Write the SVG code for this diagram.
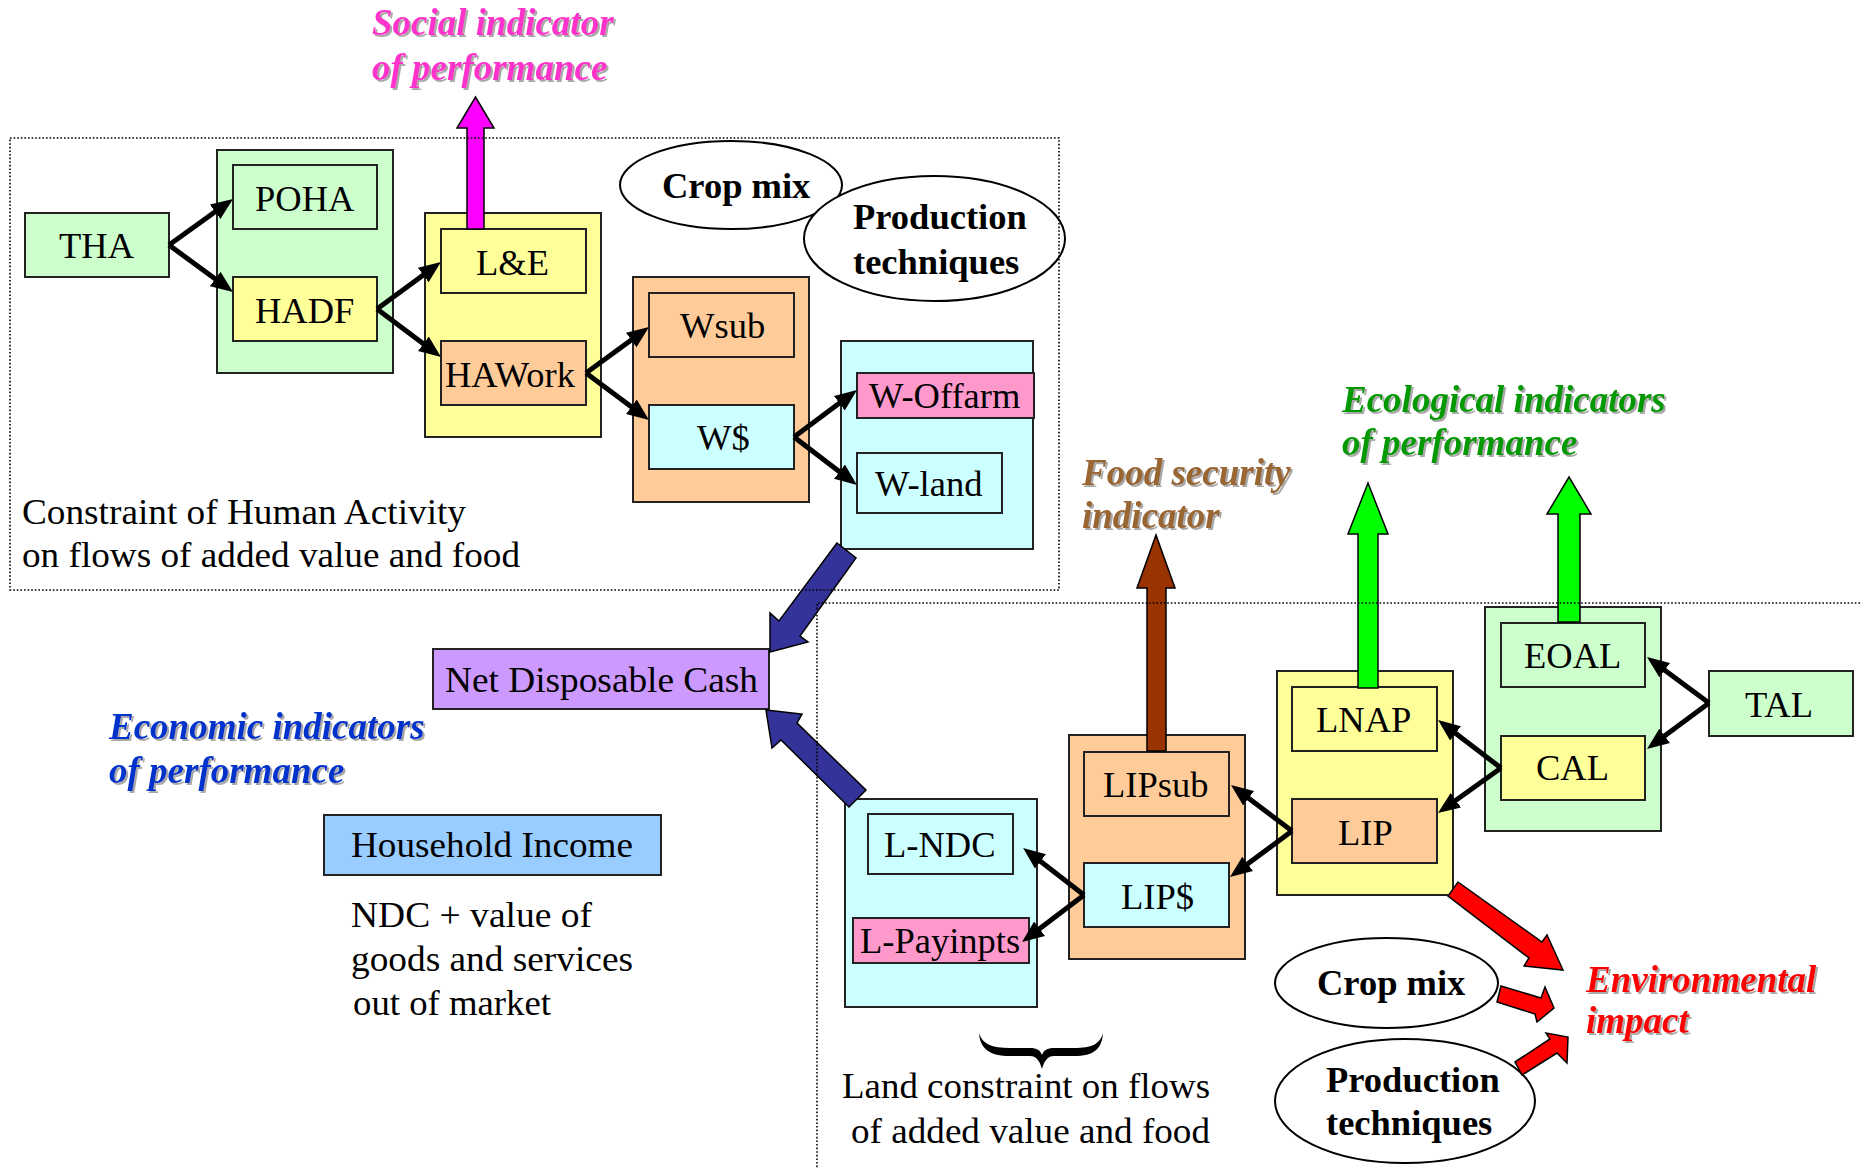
<svg xmlns="http://www.w3.org/2000/svg" width="1860" height="1169" viewBox="0 0 1860 1169">
  <defs>
    <style>
      text { font-family: "Liberation Serif", "Times New Roman", serif; font-size: 36.5px; fill: #000; }
      .b { font-weight: bold; }
      .ind { font-weight: bold; font-style: italic; font-size: 37px; filter: url(#shadow); }
      .box { stroke: #222; stroke-width: 2; }
      .green { fill: #CCFFCC; }
      .yellow { fill: #FFFF99; }
      .orange { fill: #FFCC99; }
      .cyan { fill: #CCFFFF; }
      .pink { fill: #FF99CC; }
      .purple { fill: #CC99FF; }
      .blue { fill: #99CCFF; }
      .oval { fill: #fff; stroke: #000; stroke-width: 2; }
      .link { fill: none; stroke: #000; stroke-width: 5; marker-end: url(#head); }
      .block { stroke: #000; stroke-width: 1.5; stroke-linejoin: miter; }
      .dots { fill: none; stroke: #000; stroke-width: 1.6; stroke-dasharray: 1.6 2; }
    </style>
    <marker id="head" markerUnits="userSpaceOnUse" markerWidth="24" markerHeight="20" viewBox="0 -10 24 20" refX="12" refY="0" orient="auto">
      <path d="M0,-9 L22,0 L0,9 z" fill="#000"/>
    </marker>
    <filter id="shadow" x="-5%" y="-20%" width="115%" height="150%">
      <feDropShadow dx="2" dy="2" stdDeviation="0.6" flood-color="#9a9a9a" flood-opacity="0.85"/>
    </filter>
  </defs>

  <rect width="1860" height="1169" fill="#fff"/>

  <!-- Human activity chain (upper left) -->
  <g id="tha"><rect class="box green" x="25" y="213" width="144" height="64"/><text x="59" y="258">THA</text></g>
  <g id="had-group"><rect class="box green" x="217" y="150" width="176" height="223"/></g>
  <g id="poha"><rect class="box green" x="233" y="165" width="144" height="64"/><text x="255" y="211">POHA</text></g>
  <g id="hadf"><rect class="box yellow" x="233" y="277" width="144" height="64"/><text x="255" y="323">HADF</text></g>
  <g id="work-group"><rect class="box yellow" x="425" y="213" width="176" height="224"/></g>
  <g id="le"><rect class="box yellow" x="441" y="229" width="145" height="64"/><text x="476" y="275">L&amp;E</text></g>
  <g id="hawork"><rect class="box orange" x="441" y="341" width="145" height="64"/><text x="445" y="387">HAWork</text></g>
  <g id="w-group"><rect class="box orange" x="633" y="277" width="176" height="225"/></g>
  <g id="wsub"><rect class="box orange" x="649" y="293" width="145" height="64"/><text x="680" y="338">Wsub</text></g>
  <g id="wcash"><rect class="box cyan" x="649" y="405" width="145" height="64"/><text x="697" y="450">W$</text></g>
  <g id="wcash-group"><rect class="box cyan" x="841" y="341" width="192" height="208"/></g>
  <g id="w-offarm"><rect class="box pink" x="857" y="373" width="177" height="45"/><text x="869" y="408">W-Offarm</text></g>
  <g id="w-land"><rect class="box cyan" x="857" y="453" width="145" height="60"/><text x="875" y="496">W-land</text></g>

  <g id="cropmix-top"><ellipse class="oval" cx="731" cy="185" rx="111" ry="44"/><text class="b" x="662" y="198">Crop mix</text></g>
  <g id="techniques-top"><ellipse class="oval" cx="934.5" cy="238.5" rx="130.5" ry="62.5"/><text class="b" x="853" y="229">Production</text><text class="b" x="853" y="274">techniques</text></g>

  <g id="human-note">
    <text x="22" y="524" textLength="444" lengthAdjust="spacingAndGlyphs">Constraint of Human Activity</text>
    <text x="22" y="567" textLength="498" lengthAdjust="spacingAndGlyphs">on flows of added value and food</text>
  </g>

  <!-- Cash and income -->
  <g id="ndc"><rect class="box purple" x="433" y="649" width="336" height="60"/><text x="445" y="692" textLength="313" lengthAdjust="spacingAndGlyphs">Net Disposable Cash</text></g>
  <g id="household-income"><rect class="box blue" x="324" y="815" width="337" height="60"/><text x="351" y="857" textLength="282" lengthAdjust="spacingAndGlyphs">Household Income</text></g>
  <g id="income-note">
    <text x="351" y="927" textLength="241" lengthAdjust="spacingAndGlyphs">NDC + value of</text>
    <text x="351" y="971" textLength="282" lengthAdjust="spacingAndGlyphs">goods and services</text>
    <text x="353" y="1015" textLength="198" lengthAdjust="spacingAndGlyphs">out of market</text>
  </g>

  <!-- Land chain (lower right) -->
  <g id="lndc-group"><rect class="box cyan" x="845" y="799" width="192" height="208"/></g>
  <g id="l-ndc"><rect class="box cyan" x="868" y="814" width="145" height="60"/><text x="884" y="857">L-NDC</text></g>
  <g id="l-payinpts"><rect class="box pink" x="853" y="918" width="176" height="45"/><text x="860" y="953">L-Payinpts</text></g>
  <g id="lip-split-group"><rect class="box orange" x="1069" y="735" width="176" height="224"/></g>
  <g id="lipsub"><rect class="box orange" x="1084" y="752" width="145" height="64"/><text x="1103" y="797">LIPsub</text></g>
  <g id="lipcash"><rect class="box cyan" x="1084" y="863" width="145" height="64"/><text x="1121" y="909">LIP$</text></g>
  <g id="lip-group"><rect class="box yellow" x="1277" y="671" width="176" height="224"/></g>
  <g id="lnap"><rect class="box yellow" x="1292" y="687" width="145" height="64"/><text x="1316" y="732">LNAP</text></g>
  <g id="lip"><rect class="box orange" x="1292" y="799" width="145" height="64"/><text x="1338" y="845">LIP</text></g>
  <g id="al-group"><rect class="box green" x="1485" y="607" width="176" height="224"/></g>
  <g id="eoal"><rect class="box green" x="1501" y="623" width="144" height="64"/><text x="1524" y="668">EOAL</text></g>
  <g id="cal"><rect class="box yellow" x="1501" y="736" width="144" height="64"/><text x="1536" y="780">CAL</text></g>
  <g id="tal"><rect class="box green" x="1709" y="671" width="144" height="65"/><text x="1745" y="717">TAL</text></g>

  <g id="cropmix-bottom"><ellipse class="oval" cx="1386.5" cy="983" rx="111.5" ry="45"/><text class="b" x="1317" y="995">Crop mix</text></g>
  <g id="techniques-bottom"><ellipse class="oval" cx="1405" cy="1101" rx="130" ry="62"/><text class="b" x="1326" y="1092">Production</text><text class="b" x="1326" y="1135">techniques</text></g>

  <g id="land-note">
    <path d="M979,1033 C980,1049 990,1056 1010,1056 L1030,1056 C1037,1056 1040,1062 1042,1069 C1044,1062 1047,1056 1054,1056 L1074,1056 C1094,1056 1102,1049 1103,1033 C1100,1044 1092,1048 1074,1048 L1054,1048 C1047,1048 1044,1050 1042,1055 C1040,1050 1037,1048 1030,1048 L1010,1048 C992,1048 982,1044 979,1033 Z" fill="#000"/>
    <text x="842" y="1098" textLength="368" lengthAdjust="spacingAndGlyphs">Land constraint on flows</text>
    <text x="851" y="1143" textLength="359" lengthAdjust="spacingAndGlyphs">of added value and food</text>
  </g>

  <!-- Indicator labels -->
  <g id="social-indicator"><text class="ind" style="fill:#FF33CC" x="372" y="35">Social indicator</text><text class="ind" style="fill:#FF33CC" x="372" y="80">of performance</text></g>
  <g id="food-indicator"><text class="ind" style="fill:#996633" x="1082" y="485">Food security</text><text class="ind" style="fill:#996633" x="1082" y="528">indicator</text></g>
  <g id="ecological-indicators"><text class="ind" style="fill:#009900" x="1342" y="412">Ecological indicators</text><text class="ind" style="fill:#009900" x="1342" y="455">of performance</text></g>
  <g id="economic-indicators"><text class="ind" style="fill:#0033CC" x="109" y="739">Economic indicators</text><text class="ind" style="fill:#0033CC" x="109" y="783">of performance</text></g>
  <g id="environmental-impact"><text class="ind" style="fill:#FF0000" x="1586" y="992">Environmental</text><text class="ind" style="fill:#FF0000" x="1586" y="1033">impact</text></g>

  <!-- Connectors -->
  <g id="connectors">
    <path class="link" d="M169,245 L224.9,204.8"/>
    <path class="link" d="M169,245 L224.9,286.1"/>
    <path class="link" d="M377,309 L432.9,267.9"/>
    <path class="link" d="M377,309 L433,351"/>
    <path class="link" d="M586,373 L640.9,332.9"/>
    <path class="link" d="M586,373 L641,414"/>
    <path class="link" d="M794,437 L849,396"/>
    <path class="link" d="M794,437 L849,479"/>
    <path class="link" d="M1709,703 L1655,663"/>
    <path class="link" d="M1709,703 L1655,743"/>
    <path class="link" d="M1501,768 L1446,726"/>
    <path class="link" d="M1501,768 L1446.1,807.2"/>
    <path class="link" d="M1292,831 L1239,791"/>
    <path class="link" d="M1292,831 L1238,871"/>
    <path class="link" d="M1084,895 L1031,854"/>
    <path class="link" d="M1084,895 L1030,936"/>

    <!-- block arrows toward indicators -->
    <polygon class="block" fill="#FF00FF" points="467,229 467,128 457,128 475.5,97 494,128 484,128 484,229"/>
    <polygon class="block" fill="#993300" points="1147,751 1147,588 1137,588 1156,535 1175,588 1166,588 1166,751"/>
    <polygon class="block" fill="#00FF00" points="1358,688 1358,534 1348,534 1368,483 1388,534 1378,534 1378,688"/>
    <polygon class="block" fill="#00FF00" points="1558,622 1558,514 1547,514 1569,477 1591,514 1580,514 1580,622"/>

    <!-- cash flows into Net Disposable Cash -->
    <polygon class="block" fill="#333399" points="837,543 779,621 770,613 770,652 808,642 800,636 856,558"/>
    <polygon class="block" fill="#333399" points="766,710 802,714 797,723 866,790 849,807 781,740 772,748"/>

    <!-- environmental impact -->
    <polygon class="block" fill="#FF0000" points="1458,882 1542,942 1547,935 1563,970 1524,966 1529,958 1448,896"/>
    <polygon class="block" fill="#FF0000" points="1501,986 1541,998 1545,987 1554,1008 1537,1022 1535,1014 1497,1002"/>
    <polygon class="block" fill="#FF0000" points="1515,1062 1550,1039 1546,1033 1568,1037 1567,1063 1557,1053 1522,1075"/>
  </g>

  <!-- dotted frames -->
  <g id="frames">
    <rect class="dots" x="10" y="138" width="1049" height="452"/>
    <path class="dots" d="M1860,603 L817,603 L817,1169"/>
  </g>
</svg>
